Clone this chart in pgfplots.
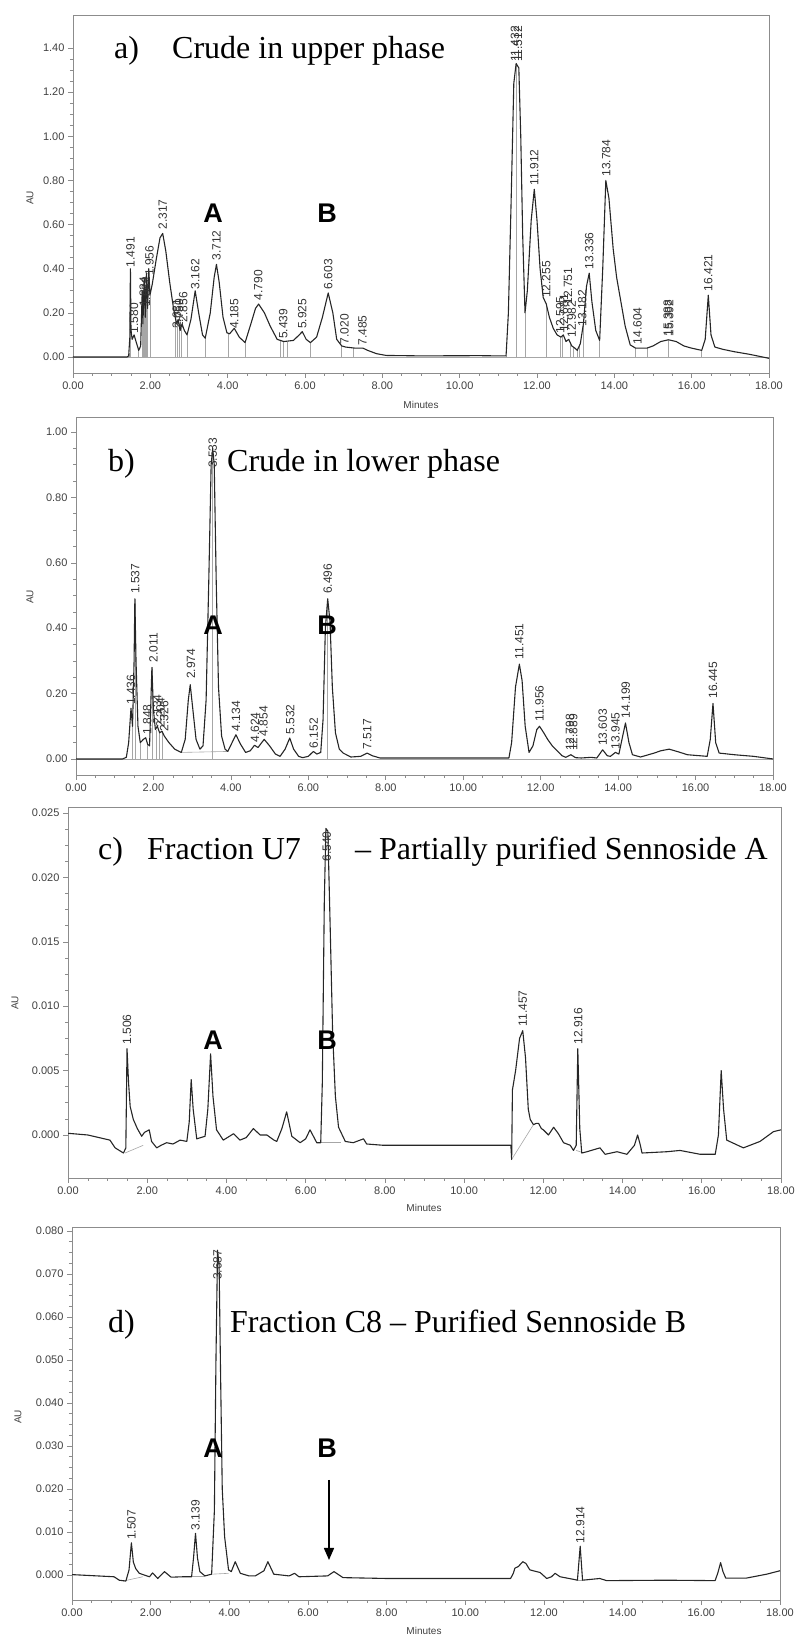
\documentclass[border=0pt]{standalone}
\usepackage{fontspec}
\setmainfont{Liberation Serif}
\newfontfamily\arialf{Liberation Sans}
\usepackage{pgfplots}
\pgfplotsset{compat=1.18}
\usetikzlibrary{arrows.meta}
\pgfplotsset{
 chrom/.style={
  scale only axis, anchor=south west,
  xmin=0, xmax=18, xtick={0,2,4,6,8,10,12,14,16,18}, minor x tick num=3, minor y tick num=3,
  tick align=outside, tick pos=left,
  axis line style={black!45, line width=0.8pt},
  every tick/.style={black!45, line width=0.6pt},
  major tick length=5pt, minor tick length=3pt,
  tick label style={font=\arialf\fontsize{11}{12}\selectfont, text=black!75},
  /pgf/number format/assume math mode=true,
  scaled ticks=false,
  xticklabel style={/pgf/number format/.cd, fixed, fixed zerofill, precision=2},
 },
 trace/.style={black!85, line width=1.1pt, line join=round},
 drop/.style={ycomb, black!35, line width=0.5pt, mark=none},
 intl/.style={black!35, line width=0.6pt},
}
\tikzset{
 plabel/.style={rotate=90, anchor=west, inner sep=1.5pt, font=\arialf\fontsize{12}{12}\selectfont, text=black!80},
 ttl/.style={anchor=base west, inner sep=0pt, font=\fontsize{32}{36}\selectfont},
 ab/.style={font=\arialf\bfseries\fontsize{27}{30}\selectfont, inner sep=0pt},
 small/.style={font=\arialf\fontsize{10}{11}\selectfont, text=black!75, inner sep=0pt},
}
\begin{document}
\begin{tikzpicture}
\useasboundingbox (0,0) rectangle (799pt,1636pt);

% ---------- a) ----------
\begin{axis}[chrom, at={(73pt,1263pt)}, width=696pt, height=358pt,
  ymin=-0.0725, ymax=1.55, ytick={0,0.2,0.4,0.6,0.8,1.0,1.2,1.4},
  yticklabel style={/pgf/number format/.cd, fixed, fixed zerofill, precision=2}]
\addplot[intl] coordinates {(0,0) (18,0)};
\addplot[drop] coordinates {(1.45,0.02) (1.485,0.40) (1.70,0.03) (1.79,0.30) (1.81,0.15) (1.84,0.36) (1.87,0.18) (1.90,0.38) (1.93,0.22) (1.99,0.28) (2.65,0.17) (2.70,0.16) (2.75,0.14) (2.80,0.13) (2.95,0.10) (3.42,0.085) (4.02,0.105) (4.45,0.065) (5.35,0.075) (5.45,0.07) (5.55,0.07) (6.14,0.065) (6.95,0.05) (7.25,0.04) (11.20,0.005) (11.46,1.32) (11.69,0.20) (12.24,0.24) (12.60,0.09) (12.66,0.095) (12.85,0.07) (12.95,0.045) (13.03,0.03) (13.10,0.05) (13.20,0.15) (13.62,0.075) (14.55,0.04) (14.84,0.04) (15.40,0.078) (16.26,0.03)};
\addplot[trace] coordinates {(0,0) (1.40,0) (1.44,0.005) (1.47,0.09) (1.485,0.40) (1.50,0.12) (1.53,0.08) (1.58,0.10) (1.63,0.07) (1.70,0.03) (1.75,0.05) (1.79,0.30) (1.81,0.15) (1.84,0.36) (1.87,0.18) (1.90,0.38) (1.93,0.22) (1.96,0.40) (1.99,0.28) (2.05,0.33) (2.15,0.44) (2.25,0.54) (2.32,0.56) (2.40,0.48) (2.50,0.34) (2.60,0.22) (2.68,0.15) (2.72,0.17) (2.77,0.12) (2.82,0.15) (2.88,0.12) (2.95,0.10) (3.05,0.17) (3.16,0.30) (3.25,0.20) (3.35,0.10) (3.42,0.085) (3.55,0.20) (3.65,0.36) (3.71,0.42) (3.78,0.34) (3.88,0.18) (3.98,0.11) (4.05,0.105) (4.17,0.13) (4.30,0.09) (4.45,0.065) (4.60,0.15) (4.72,0.22) (4.80,0.24) (4.95,0.20) (5.10,0.14) (5.28,0.08) (5.45,0.07) (5.70,0.075) (5.85,0.10) (5.93,0.115) (6.03,0.08) (6.14,0.065) (6.30,0.09) (6.45,0.18) (6.60,0.29) (6.72,0.20) (6.82,0.08) (6.95,0.05) (7.05,0.045) (7.30,0.04) (7.50,0.04) (7.62,0.03) (7.85,0.015) (8.10,0.007) (9.0,0.005) (10.5,0.006) (11.0,0.005) (11.20,0.005) (11.26,0.2) (11.33,0.7) (11.40,1.24) (11.46,1.33) (11.53,1.31) (11.58,1.0) (11.63,0.55) (11.69,0.20) (11.75,0.30) (11.85,0.62) (11.93,0.76) (12.00,0.62) (12.08,0.40) (12.16,0.27) (12.24,0.24) (12.32,0.18) (12.42,0.13) (12.52,0.10) (12.62,0.09) (12.68,0.10) (12.75,0.07) (12.82,0.08) (12.90,0.05) (12.98,0.04) (13.04,0.03) (13.12,0.06) (13.20,0.15) (13.28,0.32) (13.35,0.38) (13.42,0.25) (13.52,0.12) (13.62,0.075) (13.70,0.40) (13.78,0.80) (13.86,0.72) (13.97,0.49) (14.06,0.36) (14.16,0.26) (14.28,0.14) (14.41,0.055) (14.55,0.04) (14.70,0.04) (14.84,0.04) (15.00,0.05) (15.20,0.07) (15.40,0.078) (15.60,0.07) (15.80,0.05) (16.00,0.04) (16.26,0.03) (16.35,0.08) (16.43,0.28) (16.50,0.10) (16.60,0.045) (16.80,0.035) (17.10,0.024) (17.50,0.012) (18.0,-0.006)};
\node[plabel] at (axis cs:1.49,0.40) {1.491};
\node[plabel] at (axis cs:1.58,0.10) {1.580};
\node[plabel] at (axis cs:1.83,0.22) {1.824};
\node[plabel] at (axis cs:1.89,0.22) {1.882};
\node[plabel] at (axis cs:1.98,0.36) {1.956};
\node[plabel] at (axis cs:2.32,0.57) {2.317};
\node[plabel] at (axis cs:2.68,0.12) {2.681};
\node[plabel] at (axis cs:2.74,0.12) {2.750};
\node[plabel] at (axis cs:2.85,0.15) {2.856};
\node[plabel] at (axis cs:3.16,0.30) {3.162};
\node[plabel] at (axis cs:3.71,0.43) {3.712};
\node[plabel] at (axis cs:4.17,0.12) {4.185};
\node[plabel] at (axis cs:4.79,0.25) {4.790};
\node[plabel] at (axis cs:5.44,0.075) {5.439};
\node[plabel] at (axis cs:5.93,0.12) {5.925};
\node[plabel] at (axis cs:6.60,0.30) {6.603};
\node[plabel] at (axis cs:7.02,0.05) {7.020};
\node[plabel] at (axis cs:7.49,0.045) {7.485};
\node[plabel] at (axis cs:11.43,1.33) {11.432};
\node[plabel] at (axis cs:11.51,1.33) {11.512};
\node[plabel] at (axis cs:11.93,0.77) {11.912};
\node[plabel] at (axis cs:12.24,0.26) {12.255};
\node[plabel] at (axis cs:12.60,0.10) {12.595};
\node[plabel] at (axis cs:12.70,0.11) {12.681};
\node[plabel] at (axis cs:12.80,0.23) {12.751};
\node[plabel] at (axis cs:12.90,0.08) {12.982};
\node[plabel] at (axis cs:13.17,0.13) {13.182};
\node[plabel] at (axis cs:13.35,0.39) {13.336};
\node[plabel] at (axis cs:13.79,0.81) {13.784};
\node[plabel] at (axis cs:14.60,0.05) {14.604};
\node[plabel] at (axis cs:15.38,0.085) {15.388};
\node[plabel] at (axis cs:15.42,0.085) {15.392};
\node[plabel] at (axis cs:16.43,0.29) {16.421};
\end{axis}

% ---------- b) ----------
\begin{axis}[chrom, at={(76pt,861pt)}, width=697pt, height=358pt,
  ymin=-0.049, ymax=1.046, ytick={0,0.2,0.4,0.6,0.8,1.0},
  yticklabel style={/pgf/number format/.cd, fixed, fixed zerofill, precision=2}]
\addplot[intl] coordinates {(0,0) (18,0)};
\addplot[intl] coordinates {(2.72,0.02) (3.92,0.023)};
\addplot[drop] coordinates {(1.44,0.13) (1.52,0.49) (1.66,0.05) (1.85,0.045) (1.96,0.28) (2.06,0.09) (2.16,0.08) (2.22,0.085) (3.53,0.95) (6.50,0.49)};
\addplot[trace] coordinates {(0,0) (1.20,0) (1.30,0.005) (1.36,0.05) (1.42,0.155) (1.46,0.10) (1.50,0.30) (1.52,0.49) (1.55,0.30) (1.60,0.10) (1.66,0.05) (1.74,0.06) (1.80,0.065) (1.85,0.045) (1.90,0.04) (1.96,0.28) (2.00,0.15) (2.05,0.09) (2.10,0.10) (2.16,0.08) (2.22,0.085) (2.28,0.07) (2.40,0.05) (2.55,0.03) (2.72,0.02) (2.82,0.06) (2.90,0.18) (2.95,0.227) (3.01,0.16) (3.10,0.06) (3.20,0.03) (3.28,0.04) (3.36,0.18) (3.43,0.55) (3.49,0.90) (3.53,0.95) (3.57,0.90) (3.62,0.55) (3.68,0.22) (3.76,0.07) (3.85,0.03) (3.92,0.023) (4.03,0.05) (4.13,0.074) (4.25,0.045) (4.38,0.02) (4.50,0.025) (4.61,0.042) (4.70,0.035) (4.86,0.06) (5.00,0.04) (5.15,0.015) (5.27,0.008) (5.40,0.03) (5.52,0.064) (5.62,0.03) (5.75,0.008) (5.85,0.004) (6.00,0.008) (6.13,0.023) (6.22,0.015) (6.32,0.02) (6.38,0.12) (6.44,0.40) (6.50,0.49) (6.56,0.42) (6.62,0.22) (6.70,0.08) (6.80,0.03) (6.90,0.018) (7.10,0.006) (7.35,0.008) (7.52,0.018) (7.65,0.01) (7.85,0.003) (9.0,0.003) (10.5,0.003) (11.18,0.003) (11.25,0.05) (11.35,0.22) (11.45,0.29) (11.52,0.24) (11.60,0.10) (11.70,0.02) (11.80,0.04) (11.90,0.09) (11.97,0.10) (12.08,0.08) (12.18,0.06) (12.30,0.04) (12.40,0.028) (12.55,0.01) (12.65,0.005) (12.78,0.013) (12.90,0.004) (13.05,0.003) (13.30,0.005) (13.45,0.003) (13.60,0.028) (13.72,0.01) (13.80,0.008) (13.93,0.02) (14.02,0.015) (14.10,0.06) (14.19,0.11) (14.28,0.05) (14.37,0.013) (14.58,0.006) (14.93,0.018) (15.10,0.025) (15.32,0.03) (15.55,0.022) (15.79,0.013) (16.30,0.008) (16.38,0.06) (16.45,0.17) (16.52,0.05) (16.61,0.018) (17.00,0.013) (17.50,0.008) (18.0,0.0)};
\node[plabel] at (axis cs:1.42,0.16) {1.436};
\node[plabel] at (axis cs:1.53,0.50) {1.537};
\node[plabel] at (axis cs:1.84,0.07) {1.848};
\node[plabel] at (axis cs:2.00,0.29) {2.011};
\node[plabel] at (axis cs:2.10,0.10) {2.134};
\node[plabel] at (axis cs:2.18,0.09) {2.204};
\node[plabel] at (axis cs:2.28,0.08) {2.326};
\node[plabel] at (axis cs:2.97,0.24) {2.974};
\node[plabel] at (axis cs:3.53,0.885) {3.533};
\node[plabel] at (axis cs:4.13,0.08) {4.134};
\node[plabel] at (axis cs:4.62,0.045) {4.624};
\node[plabel] at (axis cs:4.84,0.065) {4.854};
\node[plabel] at (axis cs:5.53,0.07) {5.532};
\node[plabel] at (axis cs:6.14,0.028) {6.152};
\node[plabel] at (axis cs:6.50,0.50) {6.496};
\node[plabel] at (axis cs:7.52,0.025) {7.517};
\node[plabel] at (axis cs:11.45,0.30) {11.451};
\node[plabel] at (axis cs:11.97,0.11) {11.956};
\node[plabel] at (axis cs:12.76,0.02) {12.798};
\node[plabel] at (axis cs:12.84,0.02) {12.889};
\node[plabel] at (axis cs:13.60,0.035) {13.603};
\node[plabel] at (axis cs:13.93,0.025) {13.945};
\node[plabel] at (axis cs:14.20,0.12) {14.199};
\node[plabel] at (axis cs:16.45,0.18) {16.445};
\end{axis}

% ---------- c) ----------
\begin{axis}[chrom, at={(68pt,458pt)}, width=713pt, height=371pt,
  ymin=-0.00334, ymax=0.02547, ytick={0,0.005,0.010,0.015,0.020,0.025},
  yticklabel style={/pgf/number format/.cd, fixed, fixed zerofill, precision=3}]
\addplot[intl] coordinates {(1.44,-0.0014) (1.90,-0.0008)};
\addplot[intl] coordinates {(6.38,-0.0006) (6.90,-0.0006)};
\addplot[intl] coordinates {(11.20,-0.0019) (11.75,0.0008)};
\addplot[intl] coordinates {(12.83,-0.0012) (13.02,-0.0014)};
\addplot[trace] coordinates {(0,0.00013) (0.5,0) (1.06,-0.0004) (1.19,-0.001) (1.40,-0.0014) (1.46,-0.001) (1.49,0.0067) (1.53,0.004) (1.57,0.0022) (1.65,0.0012) (1.75,0.0005) (1.86,-0.0001) (1.93,0.0002) (1.99,0.0003) (2.05,0.0004) (2.11,-0.0005) (2.24,-0.001) (2.35,-0.0008) (2.49,-0.0006) (2.65,-0.0007) (2.83,-0.0004) (3.0,-0.0005) (3.06,0.001) (3.11,0.0043) (3.16,0.002) (3.25,-0.0003) (3.46,-0.0001) (3.53,0.002) (3.60,0.0063) (3.66,0.003) (3.75,0.0004) (3.92,-0.0004) (4.18,0.0001) (4.34,-0.0004) (4.50,-0.0002) (4.68,0.0005) (4.85,0.0) (5.02,0.0) (5.20,-0.0004) (5.27,-0.0005) (5.40,0.0005) (5.52,0.0018) (5.65,-0.0001) (5.86,-0.0006) (6.0,-0.0003) (6.11,0.0004) (6.28,-0.0006) (6.38,-0.0006) (6.42,0.004) (6.47,0.018) (6.51,0.0238) (6.56,0.0236) (6.62,0.016) (6.68,0.008) (6.75,0.003) (6.83,0.0006) (7.0,-0.0005) (7.20,-0.0006) (7.46,-0.0003) (7.54,-0.0007) (7.96,-0.0008) (9.0,-0.0008) (10.5,-0.0008) (11.18,-0.0008) (11.20,-0.0019) (11.22,0.0035) (11.30,0.005) (11.40,0.0075) (11.48,0.0081) (11.55,0.006) (11.62,0.002) (11.67,0.0012) (11.75,0.0008) (11.82,0.0009) (11.88,0.0009) (11.95,0.0005) (12.0,0.0004) (12.13,0.0) (12.26,0.0006) (12.38,0.0001) (12.51,-0.0006) (12.68,-0.0008) (12.76,-0.0012) (12.83,-0.0008) (12.87,0.0067) (12.92,0.0005) (12.97,-0.0014) (13.1,-0.0013) (13.43,-0.001) (13.56,-0.0015) (13.86,-0.0013) (14.11,-0.0015) (14.30,-0.0008) (14.38,0.0) (14.45,-0.0008) (14.49,-0.0014) (15.12,-0.0013) (15.45,-0.0012) (15.96,-0.0015) (16.34,-0.0015) (16.42,0.0) (16.49,0.005) (16.55,0.002) (16.63,-0.0004) (17.05,-0.001) (17.47,-0.0005) (17.81,0.00026) (18.0,0.0004)};
\node[plabel] at (axis cs:1.49,0.0069) {1.506};
\node[plabel] at (axis cs:6.53,0.0211) {6.540};
\node[plabel] at (axis cs:11.48,0.0083) {11.457};
\node[plabel] at (axis cs:12.88,0.0069) {12.916};
\end{axis}

% ---------- d) ----------
\begin{axis}[chrom, at={(72pt,36pt)}, width=708pt, height=373pt,
  ymin=-0.0058, ymax=0.0809, ytick={0,0.01,0.02,0.03,0.04,0.05,0.06,0.07,0.08},
  yticklabel style={/pgf/number format/.cd, fixed, fixed zerofill, precision=3}]
\addplot[intl] coordinates {(1.30,-0.0014) (1.80,-0.0004)};
\addplot[intl] coordinates {(3.04,-0.0004) (3.38,-0.0004)};
\addplot[intl] coordinates {(3.55,0.0002) (3.98,0.0004)};
\addplot[intl] coordinates {(12.85,-0.0012) (13.0,-0.0012)};
\addplot[trace] coordinates {(0,0.0001) (1.07,-0.0004) (1.20,-0.0012) (1.37,-0.0014) (1.45,0.0012) (1.51,0.0075) (1.56,0.003) (1.62,0.0015) (1.71,0.0004) (1.84,0.0) (1.97,-0.0004) (2.05,0.0005) (2.18,-0.0008) (2.35,0.0008) (2.52,-0.0005) (2.82,-0.0004) (3.04,-0.0004) (3.09,0.004) (3.14,0.0097) (3.19,0.004) (3.25,0.0008) (3.38,-0.0002) (3.55,0.0002) (3.62,0.015) (3.66,0.05) (3.70,0.0755) (3.74,0.072) (3.78,0.045) (3.82,0.02) (3.88,0.0089) (3.98,0.0012) (4.05,0.0008) (4.15,0.0031) (4.28,0.0004) (4.50,-0.0002) (4.66,-0.0002) (4.88,0.001) (4.98,0.0031) (5.13,0.0002) (5.52,-0.0002) (5.66,0.0004) (5.77,-0.0004) (6.50,-0.0002) (6.66,0.0008) (6.89,-0.0006) (8.0,-0.0008) (9.0,-0.0008) (11.15,-0.0008) (11.22,0.0004) (11.26,0.0016) (11.35,0.002) (11.46,0.0031) (11.54,0.0027) (11.64,0.0012) (11.81,0.0008) (11.90,0.0006) (12.07,-0.0008) (12.19,-0.0004) (12.28,0.0004) (12.41,-0.0004) (12.75,-0.001) (12.85,-0.0012) (12.92,0.0067) (12.98,-0.0012) (13.42,-0.0008) (13.59,-0.0013) (15.12,-0.0012) (16.35,-0.0013) (16.42,0.0005) (16.49,0.0029) (16.55,0.0008) (16.62,-0.0007) (17.15,-0.0007) (17.66,0.0002) (18.0,0.001)};
\node[plabel] at (axis cs:1.51,0.0078) {1.507};
\node[plabel] at (axis cs:3.14,0.0100) {3.139};
\node[plabel] at (axis cs:3.70,0.0682) {3.687};
\node[plabel] at (axis cs:12.92,0.0070) {12.914};
\end{axis}

% ---------- titles and labels ----------
\node[ttl] at (114pt,1577pt) {a)};
\node[ttl] at (172pt,1577pt) {Crude in upper phase};
\node[ttl] at (108pt,1164pt) {b)};
\node[ttl] at (227pt,1164pt) {Crude in lower phase};
\node[ttl] at (98pt,776pt) {c)};
\node[ttl] at (147pt,776pt) {Fraction U7};
\node[ttl] at (355pt,776pt) {\textendash\ Partially purified Sennoside A};
\node[ttl] at (108pt,303pt) {d)};
\node[ttl] at (230pt,303pt) {Fraction C8 \textendash\ Purified Sennoside B};

\node[ab] at (213pt,1423pt) {A};
\node[ab] at (327pt,1423pt) {B};
\node[ab] at (213pt,1011pt) {A};
\node[ab] at (327pt,1011pt) {B};
\node[ab] at (213pt,596pt) {A};
\node[ab] at (327pt,596pt) {B};
\node[ab] at (213pt,188pt) {A};
\node[ab] at (327pt,188pt) {B};
\draw[line width=1.5pt, -{Triangle[length=12pt,width=10pt]}] (329pt,156pt) -- (329pt,76pt);

\node[small, rotate=90] at (30pt,1438pt) {AU};
\node[small, rotate=90] at (30pt,1039pt) {AU};
\node[small, rotate=90] at (15pt,633pt) {AU};
\node[small, rotate=90] at (18pt,219pt) {AU};
\node[small] at (421pt,1231pt) {Minutes};
\node[small] at (424pt,428pt) {Minutes};
\node[small] at (424pt,5pt) {Minutes};
\end{tikzpicture}
\end{document}
